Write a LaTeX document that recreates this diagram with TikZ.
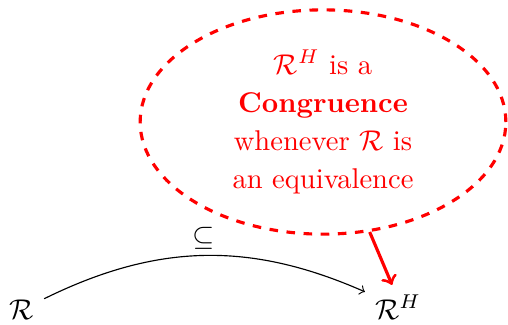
\documentclass[tikz,border=0pt]{standalone}
\usetikzlibrary{shapes.geometric,arrows}
\begin{document}
\begin{tikzpicture}[x=0.35pt,y=-0.35pt,
  bubble/.style={ellipse, draw=red, dashed, line width=1.1pt, text=red,
    minimum width=128pt, minimum height=78.5pt, inner sep=0pt, align=center,
    font=\fontsize{10}{13.3}\selectfont},
  rel/.style={inner sep=3.33pt},
  note/.style={->, >=stealth', red, line width=1.1pt},
  incl/.style={->, >=to, line width=0.4pt}]
\useasboundingbox (0,0) rectangle (508,324);
\node[bubble] (E) at (323,122) {$\mathcal{R}^H$ is a\\ \textbf{Congruence}\\ whenever $\mathcal{R}$ is\\ an equivalence};
\node[rel, anchor=base] (R) at (22,319) {$\mathcal{R}$};
\node[rel, anchor=base] (RH) at (398,319) {$\mathcal{R}^H$};
\draw[incl] (R) to[bend left=25] node[midway, above, inner sep=2pt] {$\subseteq$} (RH);
\draw[note, -to] (E.-67) -- (RH.105);
\end{tikzpicture}
\end{document}
